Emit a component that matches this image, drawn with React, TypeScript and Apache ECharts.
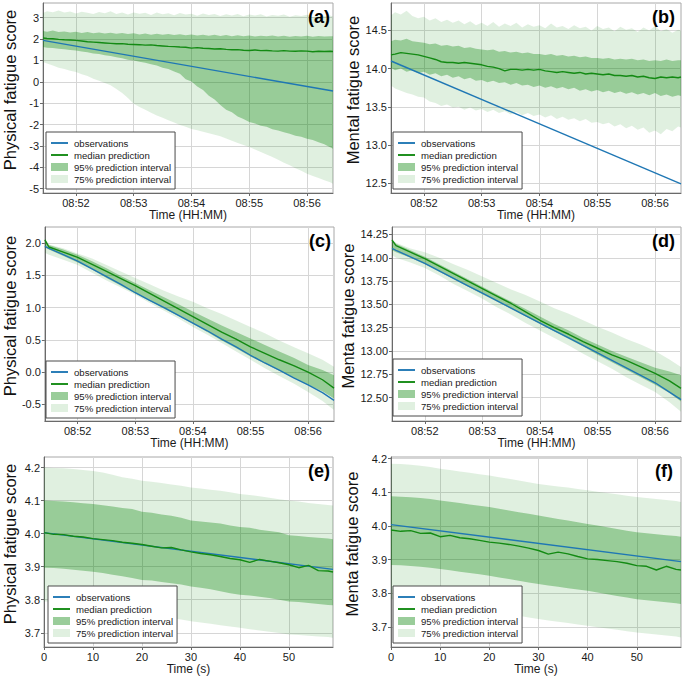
import { useEffect, useRef } from 'react'
import * as echarts from 'echarts'

// ---- time axes ----
const TIME_AB = [
  51.43, 51.5, 51.6, 51.7, 51.8, 51.9, 52.0, 52.1, 52.2, 52.3, 52.4, 52.5, 52.6, 52.7, 52.8, 52.9,
  53.0, 53.1, 53.2, 53.3, 53.4, 53.5, 53.6, 53.7, 53.8, 53.9, 54.0, 54.1, 54.2, 54.3, 54.4, 54.5,
  54.6, 54.7, 54.8, 54.9, 55.0, 55.1, 55.2, 55.3, 55.4, 55.5, 55.6, 55.7, 55.8, 55.9, 56.0, 56.1,
  56.2, 56.3, 56.4, 56.45,
]
const TIME_CD = [
  51.43, 51.5, 51.75, 52.0, 52.25, 52.5, 52.75, 53.0, 53.25, 53.5, 53.75, 54.0, 54.25, 54.5, 54.75,
  55.0, 55.25, 55.5, 55.75, 56.0, 56.25, 56.45,
]
const TIME_EF = [
  0, 2, 4, 6, 8, 10, 12, 14, 16, 18, 20, 22, 24, 26, 28, 30, 32, 34, 36, 38, 40, 42, 44, 46, 48, 50,
  52, 54, 56, 58, 59,
]
const OBS_TIME_AB = [51.43, 56.45]
const OBS_TIME_EF = [0, 59]

// ---- tick labels ----
const CLOCK_TICKS = [52, 53, 54, 55, 56]
const SEC_TICKS = [0, 10, 20, 30, 40, 50]
const Y_TICKS_A = [-5, -4, -3, -2, -1, 0, 1, 2, 3]
const Y_TICKS_B = [12.5, 13.0, 13.5, 14.0, 14.5]
const Y_TICKS_C = [-0.5, 0.0, 0.5, 1.0, 1.5, 2.0]
const Y_TICKS_D = [12.5, 12.75, 13.0, 13.25, 13.5, 13.75, 14.0, 14.25]
const Y_TICKS_EF = [3.7, 3.8, 3.9, 4.0, 4.1, 4.2]

// ---- (a) physical, long horizon ----
const A_OBS = [1.94, -0.43]
const A_MED = [
  2.05, 2.03, 2.02, 1.99, 1.97, 1.96, 1.94, 1.91, 1.88, 1.86, 1.84, 1.82, 1.80, 1.78, 1.79, 1.76,
  1.75, 1.74, 1.72, 1.73, 1.70, 1.68, 1.66, 1.65, 1.63, 1.62, 1.58, 1.60, 1.57, 1.56, 1.54, 1.55,
  1.52, 1.50, 1.51, 1.48, 1.47, 1.49, 1.46, 1.47, 1.45, 1.44, 1.46, 1.44, 1.43, 1.45, 1.44, 1.41,
  1.43, 1.42, 1.43, 1.42,
]
const A_HI95 = [
  2.38, 2.35, 2.40, 2.33, 2.36, 2.31, 2.34, 2.29, 2.33, 2.28, 2.31, 2.26, 2.30, 2.25, 2.29, 2.24,
  2.27, 2.22, 2.26, 2.21, 2.25, 2.20, 2.24, 2.19, 2.23, 2.18, 2.22, 2.17, 2.21, 2.16, 2.20, 2.15,
  2.19, 2.14, 2.18, 2.13, 2.17, 2.12, 2.16, 2.13, 2.17, 2.12, 2.16, 2.11, 2.15, 2.12, 2.16, 2.11,
  2.15, 2.12, 2.14, 2.13,
]
const A_LO95 = [
  1.63, 1.60, 1.58, 1.55, 1.53, 1.49, 1.47, 1.42, 1.39, 1.33, 1.30, 1.25, 1.21, 1.15, 1.11, 1.04,
  1.00, 0.94, 0.90, 0.82, 0.77, 0.66, 0.60, 0.48, 0.38, 0.12, 0.02, -0.22, -0.38, -0.65, -0.82,
  -1.08, -1.30, -1.42, -1.62, -1.74, -1.88, -1.95, -2.05, -2.10, -2.22, -2.27, -2.36, -2.43, -2.52,
  -2.57, -2.66, -2.72, -2.83, -2.92, -3.06, -3.13,
]
const A_HI75 = [
  3.22, 3.30, 3.26, 3.34, 3.24, 3.29, 3.20, 3.28, 3.23, 3.17, 3.27, 3.21, 3.30, 3.18, 3.25, 3.15,
  3.24, 3.19, 3.23, 3.13, 3.24, 3.16, 3.21, 3.12, 3.22, 3.15, 3.19, 3.09, 3.20, 3.13, 3.17, 3.08,
  3.16, 3.11, 3.18, 3.07, 3.15, 3.10, 3.16, 3.06, 3.13, 3.09, 3.15, 3.05, 3.12, 3.08, 3.14, 3.04,
  3.11, 3.07, 3.10, 3.06,
]
const A_LO75 = [
  0.93, 0.86, 0.76, 0.66, 0.60, 0.52, 0.46, 0.36, 0.27, 0.14, 0.05, -0.05, -0.16, -0.33, -0.52,
  -0.76, -1.02, -1.18, -1.30, -1.45, -1.57, -1.68, -1.80, -1.90, -2.02, -2.10, -2.20, -2.26, -2.33,
  -2.40, -2.47, -2.55, -2.65, -2.75, -2.86, -2.95, -3.05, -3.17, -3.28, -3.40, -3.52, -3.64, -3.78,
  -3.90, -4.04, -4.16, -4.30, -4.40, -4.50, -4.60, -4.70, -4.77,
]

// ---- (b) mental, long horizon ----
const B_OBS = [14.1, 12.49]
const B_MED = [
  14.18, 14.19, 14.21, 14.20, 14.19, 14.18, 14.16, 14.14, 14.12, 14.09, 14.08, 14.08, 14.07, 14.08,
  14.07, 14.06, 14.05, 14.03, 14.02, 14.00, 13.97, 13.99, 13.99, 13.98, 13.99, 13.98, 13.99, 13.97,
  13.96, 13.95, 13.96, 13.95, 13.94, 13.95, 13.93, 13.94, 13.93, 13.92, 13.93, 13.91, 13.91, 13.90,
  13.91, 13.89, 13.90, 13.88, 13.87, 13.89, 13.88, 13.89, 13.88, 13.89,
]
const B_HI95 = [
  14.36, 14.38, 14.37, 14.39, 14.36, 14.35, 14.34, 14.32, 14.33, 14.30, 14.31, 14.29, 14.30, 14.27,
  14.28, 14.26, 14.25, 14.24, 14.25, 14.22, 14.23, 14.21, 14.22, 14.20, 14.21, 14.19, 14.19, 14.18,
  14.19, 14.17, 14.18, 14.16, 14.17, 14.15, 14.16, 14.14, 14.14, 14.13, 14.14, 14.12, 14.13, 14.12,
  14.13, 14.11, 14.12, 14.10, 14.11, 14.10, 14.12, 14.10, 14.11, 14.11,
]
const B_LO95 = [
  14.01, 13.98, 14.00, 13.96, 13.98, 13.94, 13.96, 13.92, 13.94, 13.90, 13.92, 13.88, 13.90, 13.86,
  13.88, 13.84, 13.85, 13.82, 13.84, 13.81, 13.82, 13.79, 13.81, 13.78, 13.79, 13.76, 13.78, 13.75,
  13.77, 13.74, 13.76, 13.73, 13.75, 13.71, 13.73, 13.70, 13.72, 13.69, 13.71, 13.68, 13.70, 13.67,
  13.69, 13.66, 13.68, 13.65, 13.68, 13.64, 13.66, 13.63, 13.65, 13.64,
]
const B_HI75 = [
  14.70, 14.74, 14.71, 14.76, 14.69, 14.66, 14.68, 14.63, 14.66, 14.61, 14.64, 14.60, 14.63, 14.58,
  14.62, 14.57, 14.60, 14.56, 14.61, 14.55, 14.59, 14.56, 14.60, 14.54, 14.58, 14.55, 14.57, 14.53,
  14.59, 14.54, 14.56, 14.52, 14.57, 14.53, 14.55, 14.50, 14.56, 14.52, 14.54, 14.49, 14.55, 14.51,
  14.53, 14.48, 14.54, 14.50, 14.56, 14.49, 14.52, 14.47, 14.51, 14.50,
]
const B_LO75 = [
  13.78, 13.74, 13.71, 13.68, 13.66, 13.63, 13.62, 13.57, 13.55, 13.51, 13.53, 13.49, 13.50, 13.46,
  13.49, 13.45, 13.47, 13.43, 13.46, 13.42, 13.44, 13.40, 13.43, 13.39, 13.42, 13.38, 13.40, 13.36,
  13.39, 13.34, 13.37, 13.33, 13.35, 13.31, 13.34, 13.29, 13.30, 13.27, 13.29, 13.24, 13.27, 13.22,
  13.25, 13.20, 13.23, 13.16, 13.19, 13.14, 13.21, 13.18, 13.24, 13.23,
]

// ---- (c) physical, updated ----
const C_OBS = [
  1.95, 1.92, 1.82, 1.72, 1.60, 1.48, 1.36, 1.23, 1.11, 1.00, 0.88, 0.76, 0.64, 0.51, 0.39, 0.26,
  0.14, 0.03, -0.09, -0.20, -0.32, -0.44,
]
const C_MED = [
  2.05, 1.94, 1.86, 1.78, 1.67, 1.56, 1.45, 1.34, 1.22, 1.10, 0.98, 0.86, 0.74, 0.62, 0.51, 0.39,
  0.29, 0.19, 0.10, 0.0, -0.12, -0.25,
]
const C_HI95 = [
  2.07, 1.97, 1.90, 1.82, 1.72, 1.61, 1.49, 1.38, 1.27, 1.16, 1.05, 0.94, 0.83, 0.72, 0.62, 0.52,
  0.42, 0.32, 0.22, 0.11, 0.03, -0.05,
]
const C_LO95 = [
  1.93, 1.90, 1.80, 1.70, 1.59, 1.46, 1.34, 1.22, 1.10, 0.98, 0.87, 0.75, 0.62, 0.49, 0.37, 0.24,
  0.13, 0.02, -0.09, -0.20, -0.30, -0.41,
]
const C_HI75 = [
  2.06, 1.98, 1.92, 1.84, 1.76, 1.66, 1.56, 1.46, 1.36, 1.26, 1.17, 1.09, 0.99, 0.90, 0.80, 0.70,
  0.60, 0.49, 0.39, 0.29, 0.19, 0.08,
]
const C_LO75 = [
  1.85, 1.82, 1.74, 1.66, 1.54, 1.42, 1.31, 1.20, 1.07, 0.95, 0.83, 0.70, 0.58, 0.45, 0.32, 0.19,
  0.06, -0.06, -0.18, -0.31, -0.45, -0.59,
]

// ---- (d) mental, updated ----
const D_OBS = [
  14.10, 14.08, 14.01, 13.94, 13.86, 13.78, 13.70, 13.62, 13.54, 13.46, 13.38, 13.30, 13.22, 13.14,
  13.06, 12.98, 12.90, 12.82, 12.74, 12.66, 12.56, 12.48,
]
const D_MED = [
  14.19, 14.13, 14.06, 13.99, 13.91, 13.83, 13.75, 13.67, 13.59, 13.51, 13.42, 13.33, 13.25, 13.18,
  13.10, 13.03, 12.96, 12.90, 12.83, 12.76, 12.68, 12.60,
]
const D_HI95 = [
  14.20, 14.15, 14.08, 14.01, 13.93, 13.85, 13.77, 13.69, 13.61, 13.53, 13.45, 13.37, 13.29, 13.22,
  13.14, 13.07, 13.00, 12.94, 12.88, 12.82, 12.78, 12.74,
]
const D_LO95 = [
  14.08, 14.06, 14.00, 13.93, 13.85, 13.77, 13.69, 13.61, 13.53, 13.45, 13.37, 13.29, 13.21, 13.13,
  13.05, 12.96, 12.88, 12.80, 12.72, 12.64, 12.55, 12.46,
]
const D_HI75 = [
  14.20, 14.16, 14.10, 14.06, 14.00, 13.93, 13.87, 13.80, 13.73, 13.66, 13.60, 13.53, 13.46, 13.40,
  13.33, 13.26, 13.20, 13.13, 13.07, 13.00, 12.91, 12.83,
]
const D_LO75 = [
  14.03, 14.00, 13.95, 13.89, 13.81, 13.72, 13.64, 13.56, 13.47, 13.39, 13.30, 13.22, 13.14, 13.06,
  12.97, 12.89, 12.81, 12.72, 12.64, 12.56, 12.45, 12.35,
]

// ---- (e) physical, one minute ----
const E_OBS = [4.003, 3.892]
const E_MED = [
  4.003, 3.998, 3.997, 3.992, 3.990, 3.985, 3.982, 3.979, 3.974, 3.971, 3.967, 3.962, 3.957, 3.958,
  3.951, 3.945, 3.940, 3.936, 3.931, 3.925, 3.921, 3.913, 3.922, 3.917, 3.912, 3.906, 3.897, 3.904,
  3.888, 3.887, 3.884,
]
const E_HI95 = [
  4.100, 4.099, 4.097, 4.095, 4.092, 4.090, 4.086, 4.082, 4.078, 4.075, 4.066, 4.063, 4.058, 4.054,
  4.048, 4.040, 4.037, 4.034, 4.031, 4.025, 4.020, 4.018, 4.012, 4.008, 4.004, 3.995, 3.993, 3.990,
  3.988, 3.985, 3.983,
]
const E_LO95 = [
  3.897, 3.896, 3.894, 3.891, 3.888, 3.885, 3.881, 3.876, 3.871, 3.866, 3.860, 3.858, 3.854, 3.850,
  3.846, 3.840, 3.836, 3.832, 3.826, 3.820, 3.815, 3.813, 3.809, 3.805, 3.800, 3.795, 3.793, 3.790,
  3.787, 3.784, 3.783,
]
const E_HI75 = [
  4.200, 4.199, 4.198, 4.196, 4.193, 4.190, 4.185, 4.178, 4.171, 4.166, 4.160, 4.157, 4.153, 4.149,
  4.145, 4.140, 4.137, 4.133, 4.130, 4.125, 4.120, 4.117, 4.113, 4.109, 4.104, 4.100, 4.097, 4.093,
  4.090, 4.087, 4.085,
]
const E_LO75 = [
  3.795, 3.794, 3.792, 3.789, 3.785, 3.780, 3.775, 3.770, 3.765, 3.760, 3.755, 3.752, 3.748, 3.744,
  3.740, 3.735, 3.731, 3.727, 3.723, 3.719, 3.715, 3.711, 3.707, 3.703, 3.699, 3.695, 3.693, 3.691,
  3.689, 3.687, 3.685,
]

// ---- (f) mental, one minute ----
const F_OBS = [4.004, 3.894]
const F_MED = [
  3.988, 3.984, 3.986, 3.978, 3.979, 3.968, 3.972, 3.965, 3.962, 3.957, 3.952, 3.949, 3.945, 3.940,
  3.934, 3.927, 3.916, 3.922, 3.917, 3.909, 3.902, 3.900, 3.897, 3.894, 3.889, 3.882, 3.880, 3.869,
  3.880, 3.871, 3.869,
]
const F_HI95 = [
  4.088, 4.087, 4.085, 4.083, 4.080, 4.076, 4.072, 4.068, 4.064, 4.060, 4.056, 4.051, 4.046, 4.041,
  4.036, 4.031, 4.026, 4.021, 4.016, 4.011, 4.006, 4.001, 3.996, 3.991, 3.986, 3.981, 3.978, 3.975,
  3.972, 3.970, 3.968,
]
const F_LO95 = [
  3.884, 3.883, 3.881, 3.879, 3.876, 3.872, 3.868, 3.864, 3.860, 3.856, 3.852, 3.847, 3.842, 3.837,
  3.832, 3.827, 3.823, 3.819, 3.815, 3.811, 3.807, 3.802, 3.797, 3.792, 3.787, 3.782, 3.779, 3.776,
  3.773, 3.770, 3.768,
]
const F_HI75 = [
  4.185, 4.184, 4.182, 4.179, 4.175, 4.170, 4.166, 4.162, 4.158, 4.154, 4.150, 4.145, 4.140, 4.135,
  4.130, 4.125, 4.121, 4.117, 4.114, 4.110, 4.106, 4.102, 4.098, 4.094, 4.090, 4.086, 4.083, 4.080,
  4.077, 4.074, 4.071,
]
const F_LO75 = [
  3.782, 3.781, 3.779, 3.776, 3.772, 3.768, 3.764, 3.760, 3.756, 3.752, 3.748, 3.743, 3.738, 3.733,
  3.728, 3.723, 3.719, 3.715, 3.711, 3.707, 3.703, 3.699, 3.695, 3.691, 3.687, 3.683, 3.680, 3.677,
  3.674, 3.671, 3.668,
]

const LEGEND_NAMES = ['observations', 'median prediction', '95% prediction interval', '75% prediction interval']

const BLUE = '#1f77b4'
const GREEN = '#138a13'
const BAND95 = 'rgba(0, 128, 0, 0.32)'
const BAND75 = 'rgba(0, 128, 0, 0.12)'
const KEY95 = '#9acd9a'
const KEY75 = '#e0f0e0'
const FONT = '"Liberation Sans", Arial, sans-serif'
const LINE_ICON = 'path://M0,0H18V2H0Z'

interface Panel {
  label: string
  grid: { left: number; top: number; width: number; height: number }
  legend: { left: number; top: number }
  labelInset: number
  clock: boolean
  time: number[]
  obsTime: number[]
  obs: number[]
  med: number[]
  hi95: number[]
  lo95: number[]
  hi75: number[]
  lo75: number[]
  yMin: number
  yMax: number
  yTicks: number[]
  yDigits: number
  yName: string
  nameGap: number
}

const PANELS: Panel[] = [
  {
    label: '(a)', grid: { left: 43, top: 3, width: 290, height: 190 }, legend: { left: 46, top: 132 }, labelInset: 3,
    clock: true, time: TIME_AB, obsTime: OBS_TIME_AB, obs: A_OBS, med: A_MED,
    hi95: A_HI95, lo95: A_LO95, hi75: A_HI75, lo75: A_LO75,
    yMin: -5.2, yMax: 3.69, yTicks: Y_TICKS_A, yDigits: 0, yName: 'Physical fatigue score', nameGap: 25,
  },
  {
    label: '(b)', grid: { left: 391, top: 3, width: 290, height: 190 }, legend: { left: 393, top: 132 }, labelInset: 6,
    clock: true, time: TIME_AB, obsTime: OBS_TIME_AB, obs: B_OBS, med: B_MED,
    hi95: B_HI95, lo95: B_LO95, hi75: B_HI75, lo75: B_LO75,
    yMin: 12.37, yMax: 14.86, yTicks: Y_TICKS_B, yDigits: 1, yName: 'Mental fatigue score', nameGap: 30,
  },
  {
    label: '(c)', grid: { left: 43, top: 227, width: 291, height: 194 }, legend: { left: 46, top: 361 }, labelInset: 3,
    clock: true, time: TIME_CD, obsTime: TIME_CD, obs: C_OBS, med: C_MED,
    hi95: C_HI95, lo95: C_LO95, hi75: C_HI75, lo75: C_LO75,
    yMin: -0.76, yMax: 2.25, yTicks: Y_TICKS_C, yDigits: 1, yName: 'Physical fatigue score', nameGap: 26,
  },
  {
    label: '(d)', grid: { left: 392, top: 227, width: 289, height: 194 }, legend: { left: 393, top: 359 }, labelInset: 6,
    clock: true, time: TIME_CD, obsTime: TIME_CD, obs: D_OBS, med: D_MED,
    hi95: D_HI95, lo95: D_LO95, hi75: D_HI75, lo75: D_LO75,
    yMin: 12.25, yMax: 14.33, yTicks: Y_TICKS_D, yDigits: 2, yName: 'Menta fatigue score', nameGap: 31,
  },
  {
    label: '(e)', grid: { left: 43, top: 457, width: 290, height: 190 }, legend: { left: 48, top: 586 }, labelInset: 3,
    clock: false, time: TIME_EF, obsTime: OBS_TIME_EF, obs: E_OBS, med: E_MED,
    hi95: E_HI95, lo95: E_LO95, hi75: E_HI75, lo75: E_LO75,
    yMin: 3.657, yMax: 4.232, yTicks: Y_TICKS_EF, yDigits: 1, yName: 'Physical fatigue score', nameGap: 26,
  },
  {
    label: '(f)', grid: { left: 391, top: 457, width: 290, height: 190 }, legend: { left: 393, top: 586 }, labelInset: 8,
    clock: false, time: TIME_EF, obsTime: OBS_TIME_EF, obs: F_OBS, med: F_MED,
    hi95: F_HI95, lo95: F_LO95, hi75: F_HI75, lo75: F_LO75,
    yMin: 3.64, yMax: 4.205, yTicks: Y_TICKS_EF, yDigits: 1, yName: 'Menta fatigue score', nameGap: 31,
  },
]

const pairs = (xs: number[], ys: number[]) => xs.map((x, i) => [x, ys[i]])

// a prediction band: one polygon through the upper edge and back along the lower edge
function bandSeries(p: Panel, i: number, name: string, hi: number[], lo: number[], color: string) {
  return {
    type: 'custom',
    name,
    xAxisIndex: i,
    yAxisIndex: i,
    silent: true,
    itemStyle: { color },
    encode: { x: 0, y: [1, 2] },
    data: p.time.map((t, k) => [t, lo[k], hi[k]]),
    renderItem: (params: any, api: any) => {
      if (params.dataIndex !== 0) return null
      const upper = p.time.map((t, k) => api.coord([t, hi[k]]))
      const lower = p.time.map((t, k) => api.coord([t, lo[k]])).reverse()
      const cs = params.coordSys
      return {
        type: 'polygon',
        shape: { points: [...upper, ...lower] },
        style: { fill: color },
        clipPath: { type: 'rect', shape: { x: cs.x, y: cs.y, width: cs.width, height: cs.height } },
      }
    },
  }
}

function App() {
  const chartRef = useRef<HTMLDivElement>(null)

  useEffect(() => {
    document.body.style.margin = '0'
    if (!chartRef.current) return
    const chart = echarts.init(chartRef.current, undefined, { renderer: 'svg' })

    const axisText = { color: '#1a1a1a', fontSize: 11, fontFamily: FONT }

    const option: echarts.EChartsOption = {
      animation: false,
      backgroundColor: '#ffffff',
      textStyle: { fontFamily: FONT },
      grid: PANELS.map(p => ({
        ...p.grid,
        show: true,
        borderColor: '#a8a8a8',
        borderWidth: 1,
        backgroundColor: 'transparent',
      })),
      xAxis: PANELS.map((p, i) => ({
        type: 'value',
        gridIndex: i,
        min: p.clock ? 51.43 : 0,
        max: p.clock ? 56.45 : 59,
        name: p.clock ? 'Time (HH:MM)' : 'Time (s)',
        nameLocation: 'middle',
        nameGap: 14,
        nameTextStyle: { color: '#1a1a1a', fontSize: 12, fontFamily: FONT },
        axisLine: { show: true, onZero: false, lineStyle: { color: '#6a6a6a' } },
        axisTick: {
          show: true,
          length: 3,
          customValues: p.clock ? CLOCK_TICKS : SEC_TICKS,
          lineStyle: { color: '#6a6a6a' },
        },
        axisLabel: {
          ...axisText,
          margin: 4,
          customValues: p.clock ? CLOCK_TICKS : SEC_TICKS,
          formatter: (v: number) => (p.clock ? `08:${Math.round(v)}` : `${Math.round(v)}`),
        },
        splitLine: { show: true, lineStyle: { color: '#d6d6d6', width: 1 } },
      })),
      yAxis: PANELS.map((p, i) => ({
        type: 'value',
        gridIndex: i,
        min: p.yMin,
        max: p.yMax,
        name: p.yName,
        nameLocation: 'middle',
        nameGap: p.nameGap,
        nameTextStyle: { color: '#111', fontSize: 16.5, fontFamily: FONT, padding: [0, 0, 0, 16] },
        axisLine: { show: true, onZero: false, lineStyle: { color: '#6a6a6a' } },
        axisTick: { show: true, length: 3, customValues: p.yTicks, lineStyle: { color: '#6a6a6a' } },
        axisLabel: {
          ...axisText,
          margin: 4,
          customValues: p.yTicks,
          formatter: (v: number) => v.toFixed(p.yDigits),
        },
        splitLine: { show: true, lineStyle: { color: '#d6d6d6', width: 1 } },
      })),
      legend: PANELS.map(p => ({
        left: p.legend.left,
        top: p.legend.top,
        orient: 'vertical',
        selectedMode: false,
        itemWidth: 17,
        itemHeight: 8,
        itemGap: 2,
        padding: [6, 4, 5, 5],
        backgroundColor: '#ffffff',
        borderColor: '#4a4a4a',
        borderWidth: 1,
        borderRadius: 0,
        textStyle: { color: '#1a1a1a', fontSize: 9.6, fontFamily: FONT, padding: [0, 0, 0, 1] },
        data: [
          { name: LEGEND_NAMES[0], icon: LINE_ICON, itemStyle: { color: BLUE, borderWidth: 0 } },
          { name: LEGEND_NAMES[1], icon: LINE_ICON, itemStyle: { color: GREEN, borderWidth: 0 } },
          { name: LEGEND_NAMES[2], icon: 'rect', itemStyle: { color: KEY95, borderWidth: 0 } },
          { name: LEGEND_NAMES[3], icon: 'rect', itemStyle: { color: KEY75, borderWidth: 0 } },
        ],
      })),
      graphic: PANELS.map(p => ({
        type: 'text',
        x: p.grid.left + p.grid.width - p.labelInset,
        y: p.grid.top + 14,
        z: 10,
        style: {
          text: p.label,
          fill: '#000',
          font: `bold 18px ${FONT}`,
          align: 'right',
          verticalAlign: 'middle',
        },
      })),
      series: PANELS.flatMap((p, i) => [
        bandSeries(p, i, LEGEND_NAMES[3], p.hi75, p.lo75, BAND75),
        bandSeries(p, i, LEGEND_NAMES[2], p.hi95, p.lo95, BAND95),
        {
          type: 'line',
          name: LEGEND_NAMES[0],
          xAxisIndex: i,
          yAxisIndex: i,
          data: pairs(p.obsTime, p.obs),
          symbol: 'none',
          silent: true,
          itemStyle: { color: BLUE },
          lineStyle: { color: BLUE, width: 1.4 },
        },
        {
          type: 'line',
          name: LEGEND_NAMES[1],
          xAxisIndex: i,
          yAxisIndex: i,
          data: pairs(p.time, p.med),
          symbol: 'none',
          silent: true,
          itemStyle: { color: GREEN },
          lineStyle: { color: GREEN, width: 1.4 },
        },
      ]) as echarts.SeriesOption[],
    }

    chart.setOption(option)
    return () => chart.dispose()
  }, [])

  return <div ref={chartRef} style={{ width: 685, height: 676 }} />
}

export default App
